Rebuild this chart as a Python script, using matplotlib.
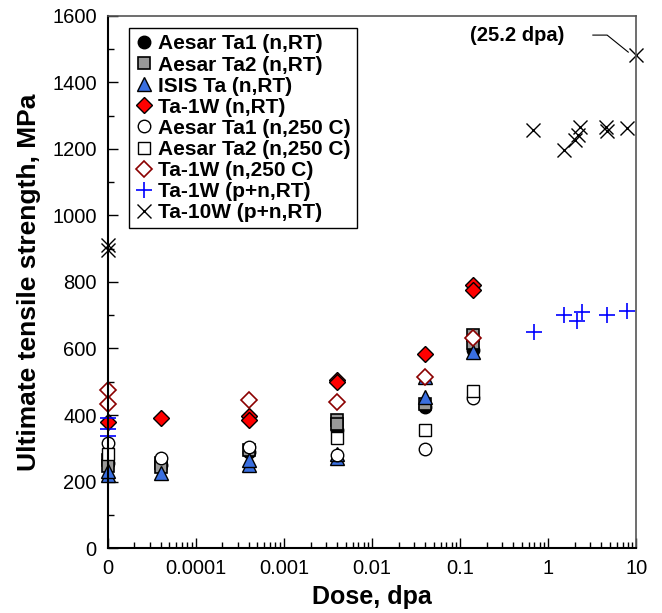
import numpy as np
import matplotlib
matplotlib.use('Agg')
import matplotlib.pyplot as plt
from matplotlib.ticker import LogLocator, FixedLocator, MultipleLocator, NullFormatter

plt.rcParams['font.family'] = ['Liberation Sans', 'DejaVu Sans']

# zero dose is drawn at the left edge of the log axis
ZERO = 1e-5

# data (dose in dpa, UTS in MPa)
ta1_rt_dose = [ZERO, 4e-5, 4e-4, 4e-3, 0.04, 0.14]
ta1_rt_uts = [255, 250, 290, 355, 425, 595]

ta2_rt_dose = [ZERO, ZERO, 4e-5, 4e-5, 4e-4, 4e-3, 4e-3, 0.04, 0.14, 0.14]
ta2_rt_uts = [265, 248, 255, 245, 296, 385, 372, 432, 640, 618]

isis_rt_dose = [ZERO, ZERO, 4e-5, 4e-4, 4e-4, 4e-3, 4e-3, 0.04, 0.04, 0.14]
isis_rt_uts = [220, 232, 226, 250, 265, 272, 282, 455, 515, 588]

ta1w_rt_dose = [ZERO, 4e-5, 4e-4, 4e-4, 4e-3, 4e-3, 0.04, 0.14, 0.14]
ta1w_rt_uts = [380, 391, 397, 385, 505, 499, 583, 790, 777]

ta1_250_dose = [ZERO, 4e-5, 4e-4, 4e-3, 0.04, 0.14]
ta1_250_uts = [315, 272, 303, 280, 298, 452]

ta2_250_dose = [ZERO, 4e-3, 0.04, 0.14]
ta2_250_uts = [282, 331, 355, 473]

ta1w_250_dose = [ZERO, ZERO, 4e-4, 4e-3, 0.04, 0.14]
ta1w_250_uts = [475, 433, 445, 439, 514, 632]

ta1w_pn_dose = [ZERO, ZERO, ZERO, 0.69, 1.5, 2.1, 2.4, 4.7, 7.8]
ta1w_pn_uts = [390, 358, 337, 650, 702, 682, 710, 701, 713]

# last point is 25.2 dpa, drawn at the right edge
ta10w_pn_dose = [ZERO, ZERO, 0.67, 1.5, 2.0, 2.2, 2.3, 4.5, 4.7, 7.8, 10]
ta10w_pn_uts = [910, 895, 1258, 1198, 1228, 1242, 1266, 1267, 1253, 1264, 1483]

x_ticks = [ZERO, 1e-4, 1e-3, 1e-2, 1e-1, 1, 10]
x_ticklabels = ['0', '0.0001', '0.001', '0.01', '0.1', '1', '10']

fig = plt.figure(figsize=(6.62, 6.13), dpi=100)
ax = fig.add_axes([0.163, 0.106, 0.798, 0.868])

kw = dict(linestyle='none', clip_on=False)
ax.plot(ta1_rt_dose, ta1_rt_uts, marker='o', ms=9, mfc='black', mec='black', label='Aesar Ta1 (n,RT)', **kw)
ax.plot(ta2_rt_dose, ta2_rt_uts, marker='s', ms=9, mfc='#999999', mec='black', mew=1.2, label='Aesar Ta2 (n,RT)', **kw)
ax.plot(isis_rt_dose, isis_rt_uts, marker='^', ms=10, mfc='#3a6fe0', mec='black', mew=1.0, label='ISIS Ta (n,RT)', **kw)
ax.plot(ta1w_rt_dose, ta1w_rt_uts, marker='D', ms=8, mfc='#ff0000', mec='black', mew=1.0, label='Ta-1W (n,RT)', **kw)
ax.plot(ta1_250_dose, ta1_250_uts, marker='o', ms=9, mfc='white', mec='black', mew=1.0, label='Aesar Ta1 (n,250 C)', **kw)
ax.plot(ta2_250_dose, ta2_250_uts, marker='s', ms=9, mfc='white', mec='black', mew=1.0, label='Aesar Ta2 (n,250 C)', **kw)
ax.plot(ta1w_250_dose, ta1w_250_uts, marker='D', ms=8, mfc='white', mec='#8b0000', mew=1.2, label='Ta-1W (n,250 C)', **kw)
ax.plot(ta1w_pn_dose, ta1w_pn_uts, marker='+', ms=12, mec='#0000ff', mew=1.2, label='Ta-1W (p+n,RT)', **kw)
ax.plot(ta10w_pn_dose, ta10w_pn_uts, marker='x', ms=10.5, mec='black', mew=1.0, label='Ta-10W (p+n,RT)', **kw)

ax.set_xscale('log')
ax.set_xlim(ZERO, 10)
ax.set_ylim(0, 1600)
ax.xaxis.set_major_locator(FixedLocator(x_ticks))
ax.set_xticklabels(x_ticklabels)
ax.xaxis.set_minor_locator(LogLocator(base=10, subs=np.arange(2, 10), numticks=20))
ax.xaxis.set_minor_formatter(NullFormatter())
ax.yaxis.set_major_locator(MultipleLocator(200))
ax.yaxis.set_minor_locator(MultipleLocator(100))

ax.tick_params(which='both', direction='in', top=False, right=False, labelsize=14.5, width=1.0)
ax.tick_params(which='major', length=7, pad=8)
ax.tick_params(which='minor', length=4)

for s in ['left', 'bottom']:
    ax.spines[s].set_linewidth(1.5)
for s in ['top', 'right']:
    ax.spines[s].set_linewidth(1.2)
    ax.spines[s].set_color('#555555')

ax.set_xlabel('Dose, dpa', fontsize=18, fontweight='bold', labelpad=5)
ax.set_ylabel('Ultimate tensile strength, MPa', fontsize=19, fontweight='bold', labelpad=8)

ax.text(0.775, 0.964, '(25.2 dpa)', transform=ax.transAxes, ha='center', va='center',
        fontsize=14.5, fontweight='bold')
ax.plot([0.918, 0.945, 0.985], [0.964, 0.964, 0.932], transform=ax.transAxes,
        color='black', lw=0.8, clip_on=False)

leg = ax.legend(loc='upper left', bbox_to_anchor=(0.04, 0.977), borderaxespad=0,
                prop={'weight': 'bold', 'size': 15}, labelspacing=0.1,
                handlelength=0.8, handletextpad=0.3, borderpad=0.3,
                fancybox=False, framealpha=1, edgecolor='black', numpoints=1)
leg.get_frame().set_linewidth(1.0)

fig.savefig('out.png', dpi=100)
